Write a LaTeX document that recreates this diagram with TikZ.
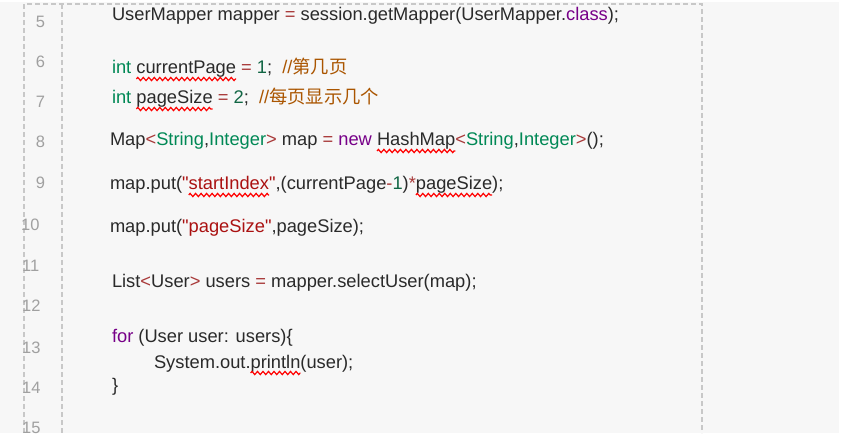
\documentclass[tikz,border=0pt]{standalone}
\usepackage{fontspec}
\setmainfont{Liberation Sans}
\newfontfamily\codefont{Liberation Sans}
\newfontfamily\cjk{Noto Sans CJK SC}
\usetikzlibrary{decorations.pathmorphing}
\definecolor{bgc}{HTML}{F7F7F7}
\definecolor{dashc}{HTML}{C8C8C8}
\definecolor{lnc}{HTML}{A0A0A0}
\definecolor{txt}{HTML}{2A2A2A}
\definecolor{kwc}{HTML}{770088}
\definecolor{tyc}{HTML}{008855}
\definecolor{numc}{HTML}{116644}
\definecolor{opc}{HTML}{A83838}
\definecolor{strc}{HTML}{AA1111}
\definecolor{cmtc}{HTML}{AA5500}
\newcommand\ckw[1]{\textcolor{kwc}{#1}}
\newcommand\cty[1]{\textcolor{tyc}{#1}}
\newcommand\cnum[1]{\textcolor{numc}{#1}}
\newcommand\cop[1]{\textcolor{opc}{#1}}
\newcommand\cstr[1]{\textcolor{strc}{#1}}
\newcommand\ccmt[1]{\textcolor{cmtc}{#1}}
\newcommand\spc{\mbox{\ }}
\begin{document}
\begin{tikzpicture}[x=1pt,y=-1pt,
  code/.style={anchor=base west, inner sep=0pt, outer sep=0pt, text=txt, font=\codefont\fontsize{18.3}{20}\selectfont},
  lnum/.style={anchor=base, inner sep=0pt, text=lnc, font=\codefont\fontsize{16.5}{18}\selectfont},
  lnumw/.style={lnum, anchor=base west},
  gutter/.style={draw=dashc, line width=1.5pt, dash pattern=on 5pt off 3pt},
  squig/.style={draw=red, line width=1.2pt, decorate, decoration={zigzag, segment length=5.5pt, amplitude=1.6pt}}]
\fill[white] (0,0) rectangle (846,438);
\fill[bgc] (0,2) rectangle (839,433);
\useasboundingbox (0,0) rectangle (846,438);
% gutters
\draw[gutter] (24,433) -- (24,4) -- (702,4) -- (702,433);
\draw[gutter] (62,4) -- (62,433);
% line numbers
\node[lnum] (n5) at (40.5,28) {5};
\node[lnum] (n6) at (40.5,68) {6};
\node[lnum] (n7) at (40.5,108) {7};
\node[lnum] (n8) at (40.5,148) {8};
\node[lnum] (n9) at (40.5,189) {9};
\node[lnumw] (n10) at (21,231) {10};
\node[lnumw] (n11) at (22,272) {11};
\node[lnumw] (n12) at (22,312) {12};
\node[lnumw] (n13) at (22,353) {13};
\node[lnumw] (n14) at (22,393) {14};
\node[lnumw] (n15) at (22,433) {15};
% code
\node[code] (l5) at (112,21) {UserMapper mapper \cop{=} session.getMapper(UserMapper.\ckw{class});};

\node[code] (l6a) at (112,74) {\cty{int}\spc};
\node[code] (l6b) at (l6a.base east) {currentPage};
\node[code] (l6c) at (l6b.base east) {\spc\cop{=}\spc\cnum{1};\spc\spc\ccmt{//{\cjk 第几页}}};

\node[code] (l7a) at (112,104) {\cty{int}\spc};
\node[code] (l7b) at (l7a.base east) {pageSize};
\node[code] (l7c) at (l7b.base east) {\spc\cop{=}\spc\cnum{2};\spc\spc\ccmt{//{\cjk 每页显示几个}}};

\node[code] (l8a) at (110,146) {Map\cop{<}\cty{String},\cty{Integer}\cop{>} map \cop{=} \ckw{new}\spc};
\node[code] (l8b) at (l8a.base east) {HashMap};
\node[code] (l8c) at (l8b.base east) {\cop{<}\cty{String},\cty{Integer}\cop{>}();};

\node[code] (l9a) at (110,190) {map.put(\cstr{"}};
\node[code] (l9b) at (l9a.base east) {\cstr{startIndex}};
\node[code] (l9c) at (l9b.base east) {\cstr{"},(currentPage\cop{-}\cnum{1})\cop{*}};
\node[code] (l9d) at (l9c.base east) {pageSize};
\node[code] (l9e) at (l9d.base east) {);};

\node[code] (l10) at (110,233) {map.put(\cstr{"pageSize"},pageSize);};

\node[code] (l11) at (112,288) {List\cop{<}User\cop{>} users \cop{=} mapper.selectUser(map);};

\node[code] (l13) at (112,342) {\ckw{for} (User user: users)\{};
\node[code] (l13a) at (154,368) {System.out.};
\node[code] (l13b) at (l13a.base east) {println};
\node[code] (l13c) at (l13b.base east) {(user);};
\node[code] (l14) at (112,391) {\}};
% squiggles
\draw[squig] ([yshift=-5pt]l6b.base west) -- ([yshift=-5pt]l6b.base east);
\draw[squig] ([yshift=-5pt]l7b.base west) -- ([yshift=-5pt]l7b.base east);
\draw[squig] ([yshift=-5pt]l8b.base west) -- ([yshift=-5pt]l8b.base east);
\draw[squig] ([yshift=-5pt]l9b.base west) -- ([yshift=-5pt]l9b.base east);
\draw[squig] ([yshift=-5pt]l9d.base west) -- ([yshift=-5pt]l9d.base east);
\draw[squig] ([yshift=-5pt]l13b.base west) -- ([yshift=-5pt]l13b.base east);
\end{tikzpicture}
\end{document}
